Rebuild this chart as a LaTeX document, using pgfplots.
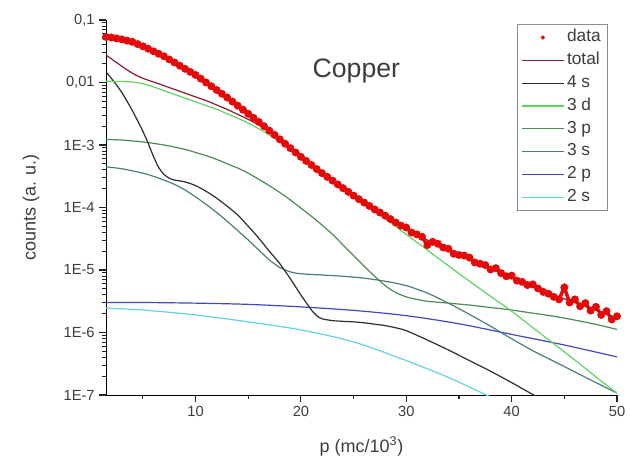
\documentclass[border=0pt]{standalone}
\usepackage{fontspec}
\setmainfont{Liberation Sans}
\usepackage{pgfplots}
\pgfplotsset{compat=1.18}

\definecolor{datared}{RGB}{228,10,10}
\definecolor{totalred}{RGB}{140,30,50}
\definecolor{fours}{RGB}{45,45,45}
\definecolor{threed}{RGB}{95,212,95}
\definecolor{threep}{RGB}{75,140,85}
\definecolor{threes}{RGB}{75,125,125}
\definecolor{twop}{RGB}{70,70,190}
\definecolor{twos}{RGB}{100,210,225}
\definecolor{axisgray}{RGB}{35,35,35}
\definecolor{ticktext}{RGB}{60,60,60}
\definecolor{legframe}{RGB}{140,140,140}

\begin{document}
\begin{tikzpicture}
\begin{axis}[
    scale only axis,
    width=383.25pt, height=281.25pt,
    xmin=1.5, xmax=50,
    ymode=log, ymin=1e-7, ymax=0.1,
    axis lines=left,
    axis line style={-},
    tick align=outside,
    major tick length=5pt,
    tick style={axisgray, line width=0.8pt},
    xtick={10,20,30,40,50},
    minor xtick={5,15,25,35,45},
    ytick={1e-7,1e-6,1e-5,1e-4,1e-3,1e-2,1e-1},
    yticklabels={1E-7,1E-6,1E-5,1E-4,1E-3,{0,01},{0,1}},
    xticklabel style={/pgf/number format/assume math mode=true},
    ticklabel style={font=\fontsize{11}{13}\selectfont, ticktext},
    xlabel={p (mc/10\textsuperscript{3})},
    ylabel={counts (a. u.)},
    every axis x label/.style={at={(axis description cs:0.5,-0.138)}, anchor=center,
        font=\fontsize{13.5}{16}\selectfont, ticktext},
    every axis y label/.style={at={(axis description cs:-0.147,0.5)}, anchor=center,
        rotate=90, font=\fontsize{13.5}{16}\selectfont, ticktext},
    legend cell align=left,
    legend image code/.code={\draw[mark repeat=2,mark phase=2,#1]
        plot coordinates {(0cm,0cm) (0.55cm,0cm) (1.1cm,0cm)};},
    legend style={at={(0.982,0.989)}, anchor=north east,
        draw=legframe, line width=0.6pt,
        font=\fontsize{13}{15}\selectfont, text=ticktext,
        row sep=1.6pt,
        nodes={inner xsep=2pt, inner ysep=1.5pt, text height=9.5pt, text depth=3pt}},
]

% legend entries, in the reference's order
\addlegendimage{only marks, mark=*, mark size=1.3pt, datared}
\addlegendentry{data}
\addlegendimage{totalred, line width=0.9pt}
\addlegendentry{total}
\addlegendimage{fours, line width=0.9pt}
\addlegendentry{4 s}
\addlegendimage{threed, line width=0.9pt}
\addlegendentry{3 d}
\addlegendimage{threep, line width=0.9pt}
\addlegendentry{3 p}
\addlegendimage{threes, line width=0.9pt}
\addlegendentry{3 s}
\addlegendimage{twop, line width=0.9pt}
\addlegendentry{2 p}
\addlegendimage{twos, line width=0.9pt}
\addlegendentry{2 s}

% 2 s
\addplot[forget plot, twos, line width=0.9pt, smooth] coordinates {
    (1.5,2.45e-6) (5,2.29e-6) (10,1.91e-6) (15,1.48e-6) (20,1.10e-6)
    (25,7.08e-7) (30,3.55e-7) (34,1.91e-7) (37.6,1.00e-7) (38,9.33e-8)
};
% 2 p
\addplot[forget plot, twop, line width=0.9pt, smooth] coordinates {
    (1.5,3.02e-6) (5,3.02e-6) (10,2.95e-6) (15,2.82e-6) (20,2.57e-6)
    (25,2.26e-6) (30,1.86e-6) (35,1.38e-6) (40,9.33e-7) (45,6.31e-7) (50,4.07e-7)
};
% 3 s
\addplot[forget plot, threes, line width=0.9pt, smooth] coordinates {
    (1.5,4.47e-4) (3,4.17e-4) (5,3.55e-4) (6,3.16e-4) (7,2.75e-4) (8,2.34e-4)
    (9,1.91e-4) (10,1.48e-4) (11,1.12e-4) (12,8.32e-5) (13,6.03e-5) (14,4.27e-5)
    (15,3.02e-5) (16,2.09e-5) (17,1.45e-5) (18,1.10e-5) (19,9.33e-6) (20,8.71e-6)
    (22,8.32e-6) (24,7.94e-6) (26,7.41e-6) (28,6.61e-6) (30,5.62e-6) (32,4.27e-6)
    (34,2.95e-6) (36,1.95e-6) (38,1.26e-6) (40,7.94e-7) (42,5.13e-7) (44,3.47e-7)
    (46,2.34e-7) (48,1.58e-7) (50,1.07e-7)
};
% 3 p
\addplot[forget plot, threep, line width=0.9pt, smooth] coordinates {
    (1.5,1.23e-3) (3,1.20e-3) (5,1.12e-3) (7,1.00e-3) (9,8.51e-4) (10,7.59e-4)
    (11,6.76e-4) (12,5.89e-4) (13,5.01e-4) (14,4.27e-4) (15,3.55e-4) (16,2.82e-4)
    (17,2.24e-4) (18,1.74e-4) (19,1.32e-4) (20,9.77e-5) (21,7.24e-5) (22,5.25e-5)
    (23,3.72e-5) (24,2.51e-5) (25,1.70e-5) (26,1.15e-5) (27,7.94e-6) (28,5.62e-6)
    (29,4.37e-6) (30,3.72e-6) (31,3.39e-6) (32,3.16e-6) (34,2.95e-6) (36,2.75e-6)
    (38,2.51e-6) (40,2.29e-6) (42,2.04e-6) (44,1.82e-6) (46,1.58e-6) (48,1.35e-6)
    (50,1.12e-6)
};
% 4 s
\addplot[forget plot, fours, line width=0.9pt, smooth] coordinates {
    (1.5,1.48e-2) (2,1.17e-2) (2.5,9.12e-3) (3,6.92e-3) (3.5,5.01e-3) (4,3.55e-3)
    (4.5,2.45e-3) (5,1.66e-3) (5.5,1.07e-3) (6,6.61e-4) (6.5,4.37e-4) (7,3.39e-4)
    (7.5,2.95e-4) (8,2.75e-4) (9,2.57e-4) (10,2.24e-4) (11,1.82e-4) (12,1.41e-4)
    (13,1.05e-4) (14,7.59e-5) (15,5.01e-5) (16,3.24e-5) (17,2.00e-5) (18,1.26e-5)
    (19,7.24e-6) (20,3.98e-6) (21,2.29e-6) (21.5,1.86e-6) (22,1.66e-6) (23,1.55e-6)
    (24,1.51e-6) (25,1.48e-6) (26,1.43e-6) (27,1.36e-6) (28,1.29e-6) (29,1.19e-6)
    (30,1.07e-6) (32,7.59e-7) (34,5.25e-7) (36,3.55e-7) (38,2.40e-7) (40,1.58e-7)
    (42,1.02e-7) (42.5,9.33e-8)
};
% 3 d
\addplot[forget plot, threed, line width=0.9pt, smooth] coordinates {
    (1.5,1.05e-2) (3,1.035e-2) (4,1.02e-2) (5,9.55e-3) (6,8.51e-3) (7,7.41e-3)
    (8,6.46e-3) (9,5.62e-3) (10,4.90e-3) (11,4.27e-3) (12,3.72e-3) (13,3.16e-3)
    (14,2.69e-3) (15,2.24e-3) (16,1.82e-3) (17,1.45e-3) (18,1.12e-3) (20,6.31e-4)
    (22,3.55e-4) (24,2.04e-4) (26,1.17e-4) (28,6.61e-5) (30,3.72e-5) (32,2.09e-5)
    (34,1.17e-5) (36,6.61e-6) (38,3.80e-6) (40,2.19e-6) (42,1.20e-6) (44,6.61e-7)
    (46,3.63e-7) (48,1.95e-7) (50,1.07e-7)
};
% data: dense points, drawn as a jagged band
\addplot[forget plot, datared, line width=2.6pt, mark=*, mark size=1.6pt] coordinates {
    (1.5,5.37e-2) (2.0,5.25e-2) (2.5,5.07e-2) (3.0,4.90e-2) (3.5,4.68e-2)
    (4.0,4.47e-2) (4.5,4.12e-2) (5.0,3.80e-2) (5.5,3.47e-2) (6.0,3.16e-2)
    (6.5,2.88e-2) (7.0,2.63e-2) (7.5,2.34e-2) (8.0,2.09e-2) (8.5,1.86e-2)
    (9.0,1.66e-2) (9.5,1.48e-2) (10.0,1.32e-2) (10.5,1.15e-2) (11.0,1.00e-2)
    (11.5,8.71e-3) (12.0,7.59e-3) (12.5,6.61e-3) (13.0,5.75e-3) (13.5,4.95e-3)
    (14.0,4.27e-3) (14.5,3.67e-3) (15.0,3.16e-3) (15.5,2.72e-3) (16.0,2.34e-3)
    (16.5,2.00e-3) (17.0,1.70e-3) (17.5,1.45e-3) (18.0,1.23e-3) (18.5,1.05e-3)
    (19.0,8.91e-4) (19.5,7.59e-4) (20.0,6.46e-4) (20.5,5.56e-4) (21.0,4.79e-4)
    (21.5,4.12e-4) (22.0,3.55e-4) (22.5,3.09e-4) (23.0,2.69e-4) (23.5,2.34e-4)
    (24.0,2.04e-4) (24.5,1.78e-4) (25.0,1.55e-4) (25.5,1.36e-4) (26.0,1.20e-4)
    (26.5,1.06e-4) (27.0,9.33e-5) (27.5,8.32e-5) (28.0,7.41e-5) (28.5,6.53e-5)
    (29.0,5.75e-5) (29.5,5.13e-5) (30.0,4.79e-5) (30.5,3.98e-5) (31.0,3.72e-5)
    (31.5,3.39e-5) (32.0,2.51e-5) (32.5,2.82e-5) (33.0,2.63e-5) (33.5,2.29e-5)
    (34.0,2.19e-5) (34.5,1.82e-5) (35.0,1.74e-5) (35.5,1.70e-5) (36.0,1.58e-5)
    (36.5,1.32e-5) (37.0,1.26e-5) (37.5,1.20e-5) (38.0,1.02e-5) (38.5,1.07e-5)
    (39.0,8.91e-6) (39.5,7.94e-6) (40.0,8.13e-6) (40.5,6.76e-6) (41.0,6.46e-6)
    (41.5,5.75e-6) (42.0,5.89e-6) (42.5,5.07e-6) (43.0,4.47e-6) (43.5,4.17e-6)
    (44.0,3.72e-6) (44.5,3.39e-6) (45.0,5.25e-6) (45.5,3.02e-6) (46.0,3.39e-6)
    (46.5,2.63e-6) (47.0,2.95e-6) (47.5,2.24e-6) (48.0,2.57e-6) (48.5,1.91e-6)
    (49.0,2.19e-6) (49.5,1.62e-6) (50.0,1.82e-6)
};
% total
\addplot[forget plot, totalred, line width=0.9pt, smooth] coordinates {
    (1.5,2.75e-2) (2,2.40e-2) (3,1.82e-2) (4,1.41e-2) (5,1.17e-2) (6,1.02e-2)
    (7,8.91e-3) (8,7.76e-3) (9,6.76e-3) (10,5.89e-3) (11,5.13e-3) (12,4.37e-3)
    (13,3.72e-3) (14,3.09e-3) (15,2.57e-3) (16,2.09e-3) (17,1.66e-3) (18,1.23e-3)
    (19,8.91e-4) (20,6.46e-4) (22,3.55e-4) (24,2.04e-4) (26,1.20e-4) (28,7.41e-5)
    (30,4.57e-5) (32,3.02e-5) (34,2.09e-5) (36,1.48e-5) (38,1.07e-5) (40,7.59e-6)
    (42,5.50e-6) (44,3.98e-6) (46,3.02e-6) (48,2.29e-6) (50,1.70e-6)
};

\node[anchor=base, font=\fontsize{20}{24}\selectfont, text=ticktext]
    at (rel axis cs:0.49,0.848) {Copper};
\end{axis}
% page = 630x458 px at 0.75pt per px, axis box at the origin
\path (-79.5pt,-47.25pt) rectangle (393pt,296.25pt);
\end{tikzpicture}
\end{document}
